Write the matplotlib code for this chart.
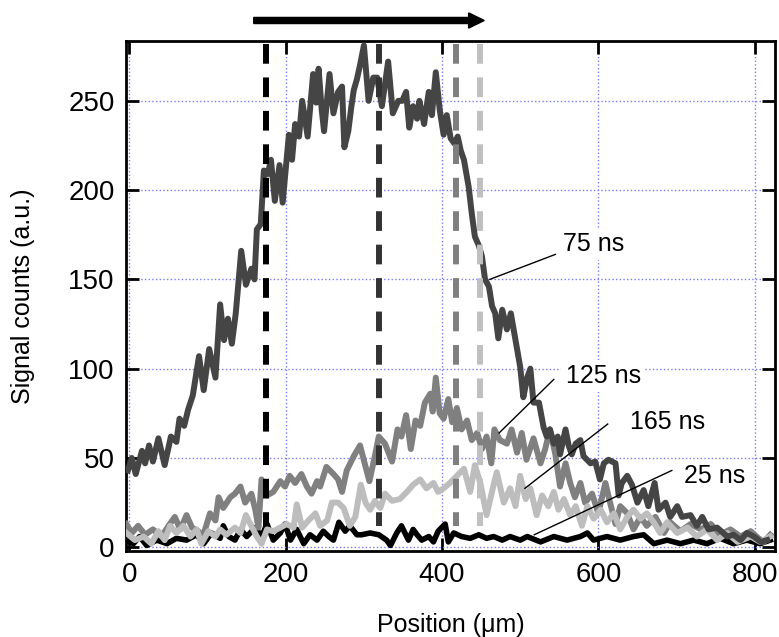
import matplotlib
matplotlib.use("Agg")
import matplotlib.pyplot as plt

plt.rcParams['font.family'] = ['Liberation Sans', 'DejaVu Sans']

pos_75 = [-2, 3, 8, 16, 20, 25, 30, 37, 45, 53,
          60, 64, 70, 75, 81, 89, 95, 102, 110, 116,
          121, 126, 131, 136, 143, 149, 156, 160, 163, 168,
          172, 177, 181, 186, 192, 196, 204, 208, 212, 217,
          221, 228, 235, 239, 242, 246, 249, 256, 261, 267,
          272, 275, 280, 284, 287, 291, 295, 300, 306, 312,
          317, 323, 331, 337, 344, 349, 354, 358, 363, 368,
          371, 377, 383, 387, 392, 397, 402, 406, 411, 416,
          420, 424, 428, 434, 438, 442, 447, 451, 455, 460,
          464, 468, 472, 477, 483, 488, 494, 500, 504, 509,
          513, 517, 524, 530, 534, 538, 543, 548, 551, 558,
          562, 566, 571, 577, 581, 590, 596, 602, 607, 613,
          622, 626, 630, 637, 643, 650, 658, 664, 672, 677,
          686, 692, 701, 707, 718, 726, 733, 741, 752, 765,
          773, 782, 790, 799, 808, 816]
sig_75 = [43, 50, 41, 54, 47, 57, 48, 61, 46, 62,
          59, 72, 68, 77, 85, 107, 88, 111, 95, 136,
          116, 128, 114, 131, 166, 147, 156, 150, 178, 181,
          211, 209, 217, 194, 214, 193, 231, 217, 237, 230,
          250, 230, 265, 249, 268, 245, 233, 265, 243, 255,
          258, 224, 233, 247, 256, 262, 270, 281, 250, 263,
          263, 247, 272, 243, 250, 250, 255, 235, 247, 240,
          250, 237, 255, 242, 266, 245, 231, 242, 229, 226,
          230, 222, 217, 202, 187, 174, 169, 163, 150, 146,
          135, 131, 117, 133, 122, 131, 116, 101, 84, 95,
          100, 81, 81, 67, 62, 66, 58, 62, 52, 66,
          57, 52, 58, 60, 51, 47, 48, 38, 47, 49,
          47, 29, 36, 40, 35, 25, 32, 23, 36, 21,
          25, 17, 23, 17, 18, 12, 17, 10, 11, 6,
          7, 4, 8, 6, 3, 4]

# 125 ns profile
pos_125 = [-4, 3, 11, 20, 30, 41, 50, 58, 65, 73,
           80, 88, 94, 103, 110, 114, 120, 129, 135, 142,
           148, 156, 161, 165, 169, 176, 184, 193, 199, 205,
           212, 220, 227, 233, 240, 244, 252, 261, 267, 272,
           278, 287, 295, 301, 307, 314, 319, 327, 336, 343,
           348, 354, 360, 366, 372, 378, 385, 388, 392, 397,
           402, 408, 413, 419, 425, 432, 438, 445, 451, 457,
           463, 467, 474, 483, 489, 496, 502, 508, 517, 526,
           532, 538, 545, 551, 558, 564, 570, 577, 583, 592,
           600, 609, 615, 622, 628, 637, 645, 654, 662, 673,
           684, 692, 705, 718, 731, 744, 756, 769, 782, 795,
           805, 812, 820]
sig_125 = [13, 8, 12, 7, 10, 6, 12, 17, 10, 18,
           11, 9, 6, 19, 15, 28, 22, 28, 30, 34,
           25, 30, 21, 11, 38, 29, 31, 37, 34, 40,
           36, 41, 34, 30, 37, 34, 45, 41, 38, 31,
           43, 51, 57, 47, 37, 51, 62, 58, 48, 66,
           62, 74, 55, 71, 68, 81, 86, 76, 95, 75,
           72, 83, 70, 78, 66, 71, 60, 64, 55, 62,
           47, 66, 60, 58, 66, 53, 64, 49, 61, 47,
           55, 66, 52, 34, 47, 36, 28, 36, 25, 30,
           19, 36, 25, 13, 23, 19, 10, 17, 12, 17,
           8, 14, 9, 13, 10, 13, 7, 10, 6, 9,
           5, 3, 7]

# 165 ns profile
pos_165 = [-4, 7, 18, 28, 37, 45, 52, 60, 69, 78,
           86, 92, 101, 110, 116, 124, 135, 142, 149, 157,
           163, 169, 176, 184, 193, 201, 210, 214, 221, 229,
           238, 244, 253, 259, 267, 274, 282, 289, 296, 302,
           308, 314, 321, 327, 336, 346, 355, 363, 372, 380,
           389, 395, 402, 410, 419, 428, 436, 442, 449, 457,
           466, 470, 479, 487, 494, 500, 507, 513, 521, 528,
           536, 543, 549, 556, 564, 571, 579, 586, 594, 603,
           611, 620, 628, 637, 645, 654, 662, 671, 679, 688,
           701, 714, 726, 739, 752, 765, 778, 795, 807, 820]
sig_165 = [8, 4, 6, 2, 9, 4, 12, 8, 12, 6,
           10, 2, 9, 6, 10, 7, 11, 8, 18, 11,
           6, 2, 10, 9, 11, 13, 11, 24, 11, 15,
           19, 12, 15, 25, 25, 22, 12, 17, 35, 25,
           21, 26, 22, 30, 26, 27, 31, 35, 38, 33,
           36, 31, 33, 36, 40, 44, 31, 46, 36, 18,
           35, 42, 25, 33, 23, 40, 27, 33, 18, 29,
           23, 31, 21, 27, 18, 23, 12, 23, 16, 21,
           14, 19, 10, 17, 21, 16, 19, 14, 8, 14,
           8, 11, 6, 10, 4, 8, 3, 6, 3, 6]

# 25 ns profile
pos_25 = [-4, 5, 13, 22, 35, 48, 60, 73, 86, 95,
          105, 116, 120, 127, 135, 142, 150, 161, 169, 176,
          184, 193, 199, 206, 214, 223, 231, 240, 248, 255,
          261, 268, 276, 282, 291, 297, 308, 319, 329, 334,
          342, 348, 357, 363, 368, 374, 383, 389, 395, 404,
          408, 415, 425, 436, 447, 457, 466, 477, 487, 500,
          509, 526, 543, 560, 577, 586, 594, 611, 628, 645,
          658, 671, 688, 705, 722, 739, 756, 773, 790, 807,
          820]
sig_25 = [4, 2, 6, 1, 4, 2, 5, 4, 7, 2,
          8, 5, 12, 6, 4, 10, 6, 11, 6, 13,
          4, 8, 13, 4, 10, 2, 7, 4, 9, 6,
          4, 14, 9, 12, 7, 7, 8, 7, 4, 1,
          8, 12, 4, 10, 7, 4, 6, 3, 9, 13,
          3, 8, 6, 5, 7, 5, 6, 4, 6, 4,
          6, 3, 6, 4, 6, 8, 4, 6, 4, 6,
          7, 2, 4, 2, 4, 2, 5, 2, 4, 2,
          4]

# dashed front positions (um) and colours
front_pos = [175, 319, 418, 448]
front_colors = ['#000000', '#333333', '#7f7f7f', '#c0c0c0']

# curve labels: text, text anchor, leader start, leader end
label_text = ['75 ns', '125 ns', '165 ns', '25 ns']
label_xy = [(555, 166), (558, 92), (641, 66), (709, 36)]
leader_from = [(545, 164), (543, 94), (612, 69), (694, 43)]
leader_to = [(461, 150), (473, 64), (506, 33), (518, 7)]

fig = plt.figure(figsize=(7.79, 6.37), dpi=100)
ax = fig.add_axes([0.1617, 0.1350, 0.8331, 0.8006])

ax.plot(pos_25, sig_25, color='#000000', lw=4.0, zorder=3)
ax.plot(pos_125, sig_125, color='#808080', lw=4.3, zorder=3)
ax.plot(pos_165, sig_165, color='#bdbdbd', lw=4.3, zorder=3)
ax.plot(pos_75, sig_75, color='#454545', lw=4.3, zorder=3)

for xp, c in zip(front_pos, front_colors):
    ax.plot([xp, xp], [282, 12], color=c, lw=4.3, dashes=(3.3, 2.3), zorder=5)

for t, (tx, ty), p0, p1 in zip(label_text, label_xy, leader_from, leader_to):
    ax.plot([p0[0], p1[0]], [p0[1], p1[1]], color='black', lw=1.0, zorder=6)
    ax.text(tx, ty, t, fontsize=18, ha='left', va='baseline', zorder=6,
            bbox=dict(facecolor='white', edgecolor='none', pad=3))

# direction arrow above the plot
ax.arrow(159, 295, 295, 0, width=3.4, head_width=8.5, head_length=20,
         length_includes_head=True, color='black', clip_on=False)

ax.set_xlim(-4.5, 826)
ax.set_ylim(-2.1, 283.5)
ax.set_xticks([0, 200, 400, 600, 800])
ax.set_yticks([0, 50, 100, 150, 200, 250])
ax.grid(True, color='#7a7aff', ls=':', lw=1.0)
ax.set_axisbelow(True)
ax.tick_params(direction='in', length=9.5, width=2, top=True, right=True,
               labelsize=20, pad=8)
for s in ax.spines.values():
    s.set_linewidth(2)

ax.set_xlabel('Position (μm)', fontsize=18, labelpad=18)
ax.set_ylabel('Signal counts (a.u.)', fontsize=18, labelpad=24)

fig.savefig('out.png', dpi=100)
